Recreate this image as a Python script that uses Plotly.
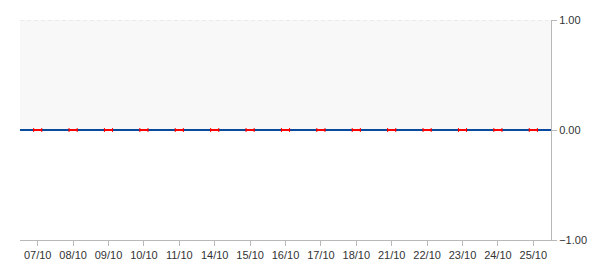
import plotly.graph_objects as go

dates = ["07/10", "08/10", "09/10", "10/10", "11/10", "14/10", "15/10", "16/10",
         "17/10", "18/10", "21/10", "22/10", "23/10", "24/10", "25/10"]
values = [0, 0, 0, 0, 0, 0, 0, 0, 0, 0, 0, 0, 0, 0, 0]
err_half = [0.115] * len(dates)
y_ticks = [-1, 0, 1]

idx = list(range(len(dates)))

fig = go.Figure()
# thick horizontal part of the red range bars
fig.add_trace(go.Scatter(
    x=idx, y=values, mode="markers",
    marker=dict(size=1, color="rgba(0,0,0,0)"),
    error_x=dict(type="data", array=err_half, color="#ff0000", thickness=2, width=0),
    showlegend=False, hoverinfo="skip",
))
# thin caps
fig.add_trace(go.Scatter(
    x=idx, y=values, mode="markers",
    marker=dict(size=1, color="rgba(0,0,0,0)"),
    error_x=dict(type="data", array=err_half, color="#ff0000", thickness=1, width=2),
    showlegend=False, hoverinfo="skip",
))

fig.add_shape(type="rect", xref="paper", yref="y", x0=0, x1=1, y0=0, y1=1,
              fillcolor="#f8f8f8", line_width=0, layer="below")
fig.add_shape(type="line", xref="paper", yref="y", x0=0, x1=1, y0=1, y1=1,
              line=dict(color="#dddddd", width=1, dash="4px,3px"), layer="below")

fig.update_layout(
    width=600, height=270,
    margin=dict(l=20, r=49, t=20, b=30),
    paper_bgcolor="white", plot_bgcolor="white",
    font=dict(family="Liberation Sans, Arial, sans-serif", size=11, color="#333333"),
    xaxis=dict(
        range=[-0.5, len(dates) - 0.5],
        tickvals=idx, ticktext=dates,
        showgrid=False, zeroline=False,
        showline=True, linecolor="#b8b8b8", linewidth=1,
        ticks="outside", ticklen=5, tickcolor="#b8b8b8",
        automargin=False, fixedrange=True,
    ),
    yaxis=dict(
        side="right", range=[-1, 1],
        tickvals=y_ticks, tickformat=".2f",
        showgrid=False,
        zeroline=True, zerolinecolor="#0a4a9c", zerolinewidth=2,
        showline=True, linecolor="#b8b8b8", linewidth=1,
        ticks="outside", ticklen=5, tickcolor="#b8b8b8",
        automargin=False, fixedrange=True,
    ),
)

fig.write_html("out.html")
